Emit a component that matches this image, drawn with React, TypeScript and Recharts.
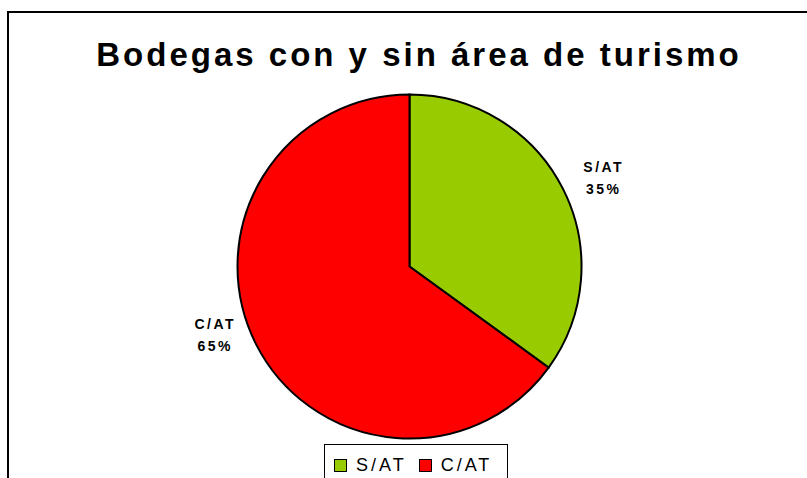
import { PieChart, Pie, Cell, Legend } from "recharts";

const categories = ["S/AT", "C/AT"];
const shares = [35, 65];
const colors = ["#99CC00", "#FF0000"];

const data = categories.map((name, i) => ({ name, value: shares[i], color: colors[i] }));

const RADIAN = Math.PI / 180;

// labels sit outside the slice, a bit flatter vertically like Excel's best fit
function SliceLabel(props: any) {
  const { cx, cy, midAngle, outerRadius, name, value } = props;
  const rx = outerRadius + 46;
  const ry = outerRadius;
  const x = cx + rx * Math.cos(-midAngle * RADIAN);
  const y = cy + ry * Math.sin(-midAngle * RADIAN);
  return (
    <text
      x={x}
      y={y}
      textAnchor="middle"
      fill="#000"
      fontFamily="'Liberation Sans', Arial, sans-serif"
      fontWeight="bold"
      fontSize={14}
      letterSpacing={2.5}
    >
      <tspan x={x} dy={-16}>{name}</tspan>
      <tspan x={x} dy={22}>{value}%</tspan>
    </text>
  );
}

function LegendBox() {
  return (
    <div
      style={{
        border: "1px solid #000",
        width: 184,
        height: 40,
        boxSizing: "border-box",
        display: "flex",
        alignItems: "flex-start",
        paddingTop: 11,
        paddingLeft: 9,
        fontFamily: "'Liberation Sans', Arial, sans-serif",
        fontSize: 18,
        letterSpacing: 3,
        lineHeight: "18px",
        background: "#fff",
      }}
    >
      {data.map((d) => (
        <div key={d.name} style={{ display: "flex", alignItems: "center", marginRight: 12 }}>
          <span
            style={{
              display: "inline-block",
              width: 13,
              height: 13,
              boxSizing: "border-box",
              background: d.color,
              border: "1px solid #000",
              marginRight: 9,
            }}
          />
          <span>{d.name}</span>
        </div>
      ))}
    </div>
  );
}

export default function App() {
  return (
    <div style={{ position: "absolute", left: 0, top: 0, width: 807, height: 478, overflow: "hidden", background: "#fff" }}>
      <div
        style={{
          position: "absolute",
          left: 7,
          top: 11,
          width: 900,
          height: 600,
          border: "2px solid #000",
          boxSizing: "border-box",
        }}
      />
      <div
        style={{
          position: "absolute",
          left: 0,
          width: 838,
          top: 36,
          textAlign: "center",
          fontFamily: "'Liberation Sans', Arial, sans-serif",
          fontWeight: "bold",
          fontSize: 33,
          letterSpacing: 3,
          whiteSpace: "nowrap",
        }}
      >
        Bodegas con y sin área de turismo
      </div>
      <div style={{ position: "absolute", left: 0, top: 0 }}>
        <PieChart width={807} height={478} margin={{ top: 0, right: 0, bottom: 0, left: 0 }}>
          <Pie
            data={data}
            dataKey="value"
            nameKey="name"
            cx={409.5}
            cy={266.5}
            outerRadius={172}
            startAngle={90}
            endAngle={-270}
            stroke="#000"
            strokeWidth={2}
            label={SliceLabel}
            labelLine={false}
            isAnimationActive={false}
          >
            {data.map((d) => (
              <Cell key={d.name} fill={d.color} />
            ))}
          </Pie>
          <Legend
            content={<LegendBox />}
            wrapperStyle={{ position: "absolute", left: 324, top: 444, width: 184, bottom: "auto" }}
          />
        </PieChart>
      </div>
    </div>
  );
}
